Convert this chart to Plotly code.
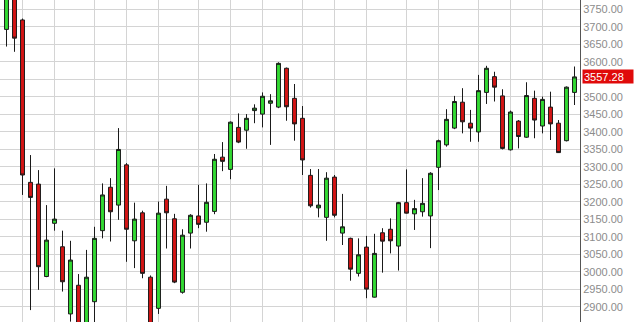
import plotly.graph_objects as go

# ---- data ----
sessions = list(range(72))
opens = [3693, 3795, 3720, 3256, 3251, 2987, 3139, 3072, 2880, 2962,
         2835, 2915, 3118, 3242, 3191, 3306, 3089, 3169, 2985, 2896,
         3208, 3152, 2942, 3111, 3160, 3142, 3173, 3328, 3293, 3413,
         3405, 3461, 3451, 3482, 3471, 3582, 3496, 3439, 3276, 3183,
         3156, 3271, 3111, 3096, 2996, 3071, 2928, 3112, 3122, 3074,
         3198, 3166, 3172, 3160, 3299, 3363, 3411, 3485, 3425, 3400,
         3513, 3558, 3503, 3349, 3431, 3385, 3496, 3417, 3471, 3425,
         3375, 3513]
highs = [3800, 3805, 3724, 3334, 3291, 3191, 3296, 3118, 3089, 2994,
         3063, 3129, 3253, 3268, 3411, 3311, 3198, 3175, 2990, 3201,
         3246, 3166, 3122, 3165, 3249, 3253, 3337, 3371, 3430, 3453,
         3451, 3479, 3513, 3508, 3599, 3584, 3537, 3474, 3294, 3294,
         3285, 3277, 3223, 3098, 3096, 3103, 3109, 3125, 3153, 3200,
         3293, 3206, 3268, 3285, 3378, 3465, 3503, 3525, 3463, 3563,
         3589, 3572, 3522, 3461, 3434, 3542, 3518, 3501, 3515, 3434,
         3530, 3587]
lows = [3644, 3629, 3220, 2891, 2949, 2985, 3118, 2944, 2858, 2810,
        2815, 2850, 3096, 3087, 3149, 3029, 3011, 2982, 2820, 2880,
        3067, 2968, 2938, 3067, 3125, 3115, 3165, 3288, 3265, 3368,
        3352, 3425, 3413, 3363, 3468, 3432, 3375, 3277, 3184, 3156,
        3089, 3156, 3077, 2975, 2987, 2925, 2927, 2998, 3053, 3004,
        3167, 3120, 3158, 3068, 3234, 3358, 3408, 3396, 3372, 3372,
        3480, 3487, 3350, 3347, 3353, 3383, 3382, 3396, 3377, 3340,
        3373, 3477]
closes = [3790, 3668, 3277, 3213, 3015, 3091, 3151, 2972, 3034, 2830,
          2985, 3096, 3220, 3172, 3350, 3122, 3151, 2996, 2840, 3168,
          3169, 2971, 3105, 3162, 3136, 3199, 3322, 3316, 3428, 3371,
          3439, 3468, 3502, 3489, 3596, 3472, 3423, 3320, 3189, 3191,
          3268, 3162, 3129, 3008, 3049, 2951, 3053, 3088, 3089, 3198,
          3168, 3181, 3196, 3282, 3375, 3436, 3487, 3429, 3411, 3518,
          3582, 3528, 3353, 3457, 3387, 3504, 3434, 3493, 3423, 3341,
          3528, 3557.28]

week_starts = [2, 6, 11, 15, 19, 24, 28, 32, 37, 41, 45, 50, 54, 59, 63, 67]
price_ticks = [2850, 2900, 2950, 3000, 3050, 3100, 3150, 3200, 3250, 3300,
               3350, 3400, 3450, 3500, 3550, 3600, 3650, 3700, 3750]
last_price = closes[-1]

y_min, y_max = 2857, 3777
label_font = dict(family="Liberation Sans, Arial, sans-serif", size=11, color="#8c8c8c")

# tick labels covered by the last-price marker are left blank (gridline kept)
tick_text = ["" if abs(v - last_price) < 25 else f"{v:.2f}" for v in price_ticks]

fig = go.Figure()
fig.add_trace(go.Candlestick(
    x=sessions, open=opens, high=highs, low=lows, close=closes,
    increasing=dict(fillcolor="#33d933", line=dict(color="#1a1a1a", width=1)),
    decreasing=dict(fillcolor="#d41515", line=dict(color="#1a1a1a", width=1)),
    whiskerwidth=0, showlegend=False, hoverinfo="skip",
))

fig.update_layout(
    width=635, height=322,
    margin=dict(l=0, r=55, t=0, b=0),
    paper_bgcolor="white", plot_bgcolor="white",
    showlegend=False,
    boxgap=0.3,
    xaxis=dict(
        range=[-0.8125, 71.6875], rangeslider=dict(visible=False),
        tickmode="array", tickvals=week_starts, showticklabels=False,
        showgrid=True, gridcolor="#d4d4d4", gridwidth=1,
        zeroline=False, showline=False, ticks="",
    ),
    yaxis=dict(
        range=[y_min, y_max], side="right",
        tickmode="array", tickvals=price_ticks, ticktext=tick_text,
        tickfont=label_font, ticks="",
        showgrid=True, gridcolor="#d4d4d4", gridwidth=1,
        showline=True, linecolor="#555555", linewidth=1,
        zeroline=False,
    ),
)

annotations = []
for v in price_ticks:
    if v < y_min or v > y_max:
        annotations.append(dict(
            x=1, xref="paper", y=v, yref="y", text=f"{v:.2f}",
            xanchor="left", yanchor="middle", xshift=3, showarrow=False,
            font=label_font,
        ))
annotations.append(dict(
    x=1, xref="paper", y=last_price, yref="y", text=f"{last_price:.2f}",
    xanchor="left", yanchor="middle", xshift=2, showarrow=False,
    bgcolor="#e00a0a", font=dict(family="Liberation Sans, Arial, sans-serif", size=11, color="white"),
    width=48, height=11, align="left", borderpad=1,
))
fig.update_layout(annotations=annotations)

fig.write_html("out.html")
